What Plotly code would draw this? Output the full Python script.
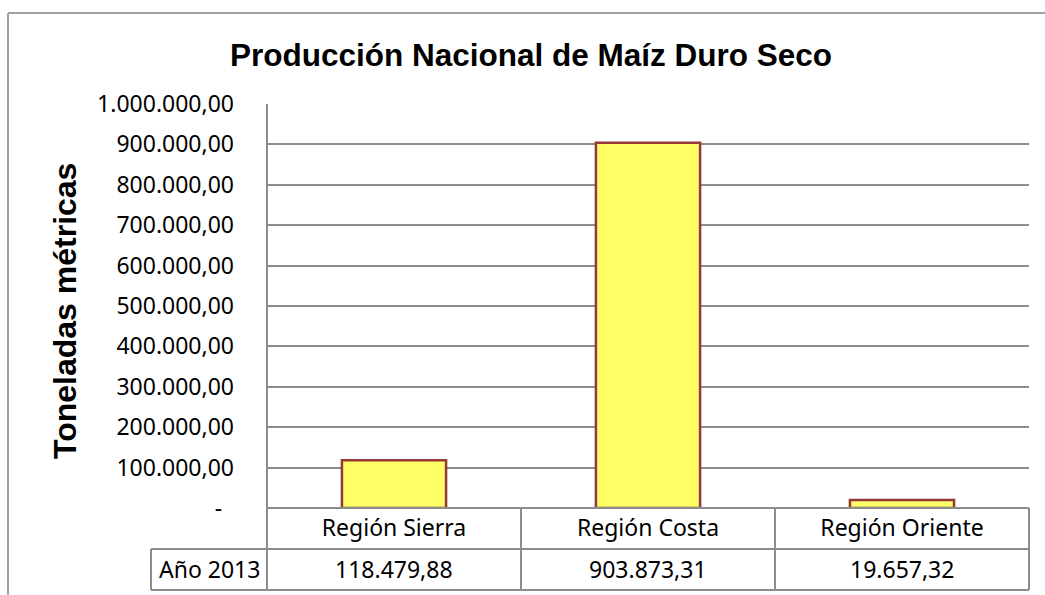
import plotly.graph_objects as go

# ---- data ----
categories = ["Región Sierra", "Región Costa", "Región Oriente"]
values = [118479.88, 903873.31, 19657.32]
series_name = "Año 2013"
value_labels = ["118.479,88", "903.873,31", "19.657,32"]
y_tickvals = [0, 100000, 200000, 300000, 400000, 500000, 600000, 700000, 800000, 900000, 1000000]
title_text = "Producción Nacional de Maíz Duro Seco"
y_title = "Toneladas métricas"


def fmt_es(v):
    if v == 0:
        return "-\u00a0\u00a0"
    s = f"{v:,.2f}"
    return s.replace(",", "X").replace(".", ",").replace("X", ".")


y_ticktext = [fmt_es(v) for v in y_tickvals]

# ---- layout geometry (pixels) ----
W, H = 1045, 595
L, R, T, B = 267, 1029, 104, 508


def px(x):
    return (x - L) / (R - L)


def py(y):
    return (B - y) / (B - T)


TEXT_FONT = "Noto Sans, Open Sans, sans-serif"
BOLD_FONT = "Liberation Sans, Arial, sans-serif"
LINE_COL = "#8c8c8c"

fig = go.Figure()
fig.add_trace(go.Bar(
    x=categories,
    y=values,
    name=series_name,
    marker=dict(color="#FFFF66", line=dict(color="#953735", width=2.5)),
    width=0.41,
    hoverinfo="x+y",
))

shapes = []


def hline(x0, x1, y, col=LINE_COL, w=2):
    shapes.append(dict(type="line", xref="paper", yref="paper",
                       x0=px(x0), x1=px(x1), y0=py(y), y1=py(y),
                       line=dict(color=col, width=w), layer="above"))


def vline(x, y0, y1, col=LINE_COL, w=2):
    shapes.append(dict(type="line", xref="paper", yref="paper",
                       x0=px(x), x1=px(x), y0=py(y0), y1=py(y1),
                       line=dict(color=col, width=w), layer="above"))


# outer chart border
hline(8, 1045, 13, col="#a0a0a0", w=2)
vline(8, 13, 595, col="#a0a0a0", w=2)

# table lines
hline(L, R, B)
hline(151, R, 549)
hline(151, R, 590)
vline(L, T, 590)
vline(521, B, 590)
vline(775, B, 590)
vline(R, B, 590)
vline(151, 549, 590)

annotations = []
# series label cell
annotations.append(dict(xref="paper", yref="paper", x=px(209), y=py(569),
                        text=series_name, showarrow=False,
                        font=dict(family=TEXT_FONT, size=23, color="#000"),
                        xanchor="center", yanchor="middle"))
# value cells
for c, lab in zip(categories, value_labels):
    annotations.append(dict(xref="x", yref="paper", x=c, y=py(569),
                            text=lab, showarrow=False,
                            font=dict(family=TEXT_FONT, size=23, color="#000"),
                            xanchor="center", yanchor="middle"))
# y axis title
annotations.append(dict(xref="paper", yref="paper", x=px(65), y=py(311),
                        text=f"<b>{y_title}</b>", showarrow=False, textangle=-90,
                        font=dict(family=BOLD_FONT, size=32, color="#000"),
                        xanchor="center", yanchor="middle"))

fig.update_layout(
    width=W, height=H,
    margin=dict(l=L, r=W - R, t=T, b=H - B),
    paper_bgcolor="white", plot_bgcolor="white",
    showlegend=False,
    bargap=0.59,
    title=dict(text=f"<b>{title_text}</b>", x=(229 + 833) / 2 / W, xanchor="center",
               y=1 - 55 / H, yanchor="middle",
               font=dict(family=BOLD_FONT, size=31.5, color="#000")),
    xaxis=dict(showgrid=False, zeroline=False, showline=False, ticks="",
               tickfont=dict(family=TEXT_FONT, size=23, color="#000"),
               ticklabelstandoff=4),
    yaxis=dict(range=[0, 1000000], tickvals=y_tickvals, ticktext=y_ticktext,
               showgrid=True, gridcolor=LINE_COL, gridwidth=2,
               zeroline=False, showline=False, ticks="",
               tickfont=dict(family=TEXT_FONT, size=23, color="#000"),
               ticklabelstandoff=32),
    shapes=shapes,
    annotations=annotations,
)

fig.write_html("out.html",
               config={"displayModeBar": False},
               post_script="document.body.style.margin='0';document.body.style.overflow='hidden';")
